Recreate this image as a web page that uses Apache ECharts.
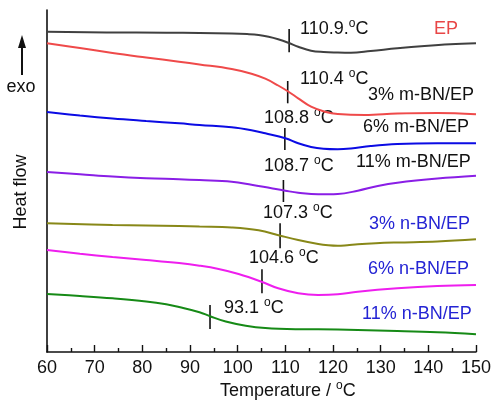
<!DOCTYPE html>
<html><head><meta charset="utf-8">
<script src="https://cdn.jsdelivr.net/npm/echarts@6/dist/echarts.min.js"></script>
<style>html,body{margin:0;padding:0;background:#fff}#c{width:494px;height:402px}</style>
</head><body><div id="c"></div>
<script>
// Temperature (°C) and heat-flow (arbitrary, offset units)
const tEP   = [60, 72.5, 85, 92, 98.75, 102, 104.4, 106.5, 108.5, 110.6, 112.7, 115.4, 118, 121, 123.75, 127.9, 133.5, 139.2, 144.6, 150];
const hEP   = [320.3, 319.6, 319.3, 319, 318.5, 317.9, 317, 315.2, 312.7, 309.3, 305.3, 301.3, 300, 299.5, 299.3, 301, 303.7, 306, 307.7, 308.7];
const tM3   = [60, 66.9, 73.75, 80.8, 87.7, 92, 98.75, 102.9, 105.8, 108.5, 110.6, 112.7, 115.4, 118.3, 121, 126.7, 133.5, 141.9, 150];
const hM3   = [308.7, 304, 299, 294.5, 290.3, 287.6, 283, 278.3, 273.3, 266.5, 260.5, 253.7, 245.3, 240.3, 238, 237, 238.5, 239, 237.7];
const tM6   = [60, 66.9, 73.75, 80.8, 87.7, 92, 98.75, 102.9, 105.8, 110, 112.7, 115.4, 118, 121, 123.75, 127.9, 133.5, 141.9, 150];
const hM6   = [240, 236.5, 233.5, 231, 228.7, 227, 224.7, 221.8, 218.7, 213.7, 208.7, 205, 203.2, 202.7, 203.5, 206, 208, 208.7, 208.7];
const tM11  = [60, 66.9, 73.75, 80.8, 87.7, 92, 98.75, 102.9, 107.1, 110, 112.7, 116.9, 121, 125.2, 129.4, 133.5, 141.9, 150];
const hM11  = [180, 177.8, 175.5, 173.8, 172.7, 171.9, 170.3, 167.3, 163.7, 161.3, 159.3, 157.7, 158, 161.3, 166, 169.3, 173.5, 176.3];
const tN3   = [60, 73.75, 87.7, 92, 98.75, 104.4, 108.96, 112.7, 116.9, 119, 121, 123, 125.2, 129, 133.5, 141.9, 150];
const hN3   = [128.7, 127, 126, 125.5, 124.6, 121.8, 116.3, 112, 108, 106.7, 106.2, 106.8, 107.8, 108.8, 109.5, 110.5, 112.7];
const tN6   = [60, 66.9, 73.75, 80.8, 87.7, 92, 96, 100.2, 105, 108.5, 112.7, 116.9, 121, 125.2, 133.5, 141.9, 150];
const hN6   = [102, 98.2, 94.9, 92, 88.9, 86.3, 83, 78, 70.3, 63.7, 58.7, 57, 57.7, 60.3, 63.7, 66, 67];
const tN11  = [60, 66.9, 73.75, 80.8, 85, 87.7, 92, 94.2, 97.5, 101.7, 105.8, 112.7, 121, 133.5, 141.9, 150];
const hN11  = [58, 56, 53.7, 50.6, 47.8, 45, 39.8, 35.8, 30.5, 26.3, 24, 22.8, 22.5, 21, 19.7, 17.7];

const seriesNames = ['EP', '3% m-BN/EP', '6% m-BN/EP', '11% m-BN/EP', '3% n-BN/EP', '6% n-BN/EP', '11% n-BN/EP'];
// Tg marker: temperature position, top and bottom of the short vertical mark
const tgPos    = [110.8, 110.5, 109.9, 109.6, 108.9, 105.1, 94.2];
const tgTop    = [323, 271, 224, 172, 128.7, 82.7, 47];
const tgBottom = [299.7, 248.7, 202, 150, 103.7, 58.7, 23];
const tgText   = ['110.9.', '110.4 ', '108.8 ', '108.7 ', '107.3 ', '104.6 ', '93.1 '];
const xTicks = [60, 70, 80, 90, 100, 110, 120, 130, 140, 150];

const colors = ['#404040', '#ef4a4a', '#0b0be4', '#8a1ee6', '#888818', '#ee1eee', '#168a16'];
const temps = [tEP, tM3, tM6, tM11, tN3, tN6, tN11];
const flows = [hEP, hM3, hM6, hM11, hN3, hN6, hN11];

const FONT = 'Liberation Sans, Arial, sans-serif';
const chart = echarts.init(document.getElementById('c'), null, {renderer: 'canvas'});

const series = seriesNames.map((n, i) => ({
  name: n, type: 'line', smooth: 0.4, symbol: 'none',
  lineStyle: {color: colors[i], width: 2},
  data: temps[i].map((t, k) => [t, flows[i][k]])
}));
series.push({
  type: 'custom', silent: true,
  data: tgPos.map((t, i) => [t, tgTop[i], tgBottom[i]]),
  renderItem: function (params, api) {
    const p1 = api.coord([api.value(0), api.value(1)]);
    const p2 = api.coord([api.value(0), api.value(2)]);
    return {type: 'line', shape: {x1: p1[0], y1: p1[1], x2: p2[0], y2: p2[1]},
            style: {stroke: '#111', lineWidth: 1.6}};
  }
});

function degLabel(txt, x, y) {
  return {type: 'text', left: x, top: y - 11,
    style: {text: txt + '{s|o}C', font: '18px ' + FONT, fill: '#111',
      rich: {s: {fontSize: 12, fontFamily: FONT, verticalAlign: 'top', lineHeight: 22, fill: '#111'}}}};
}
function plainLabel(txt, x, y, col) {
  return {type: 'text', left: x, top: y - 10, style: {text: txt, font: '18px ' + FONT, fill: col}};
}

const labelPos = [[300, 29], [300, 79], [264, 118], [264, 166], [263, 213], [249, 258], [224, 308]];
const namePos  = [[434, 30], [368, 96], [363, 128], [356, 163], [369, 225], [368, 270], [362, 315]];
const nameCol  = ['#e84646', '#111', '#111', '#111', '#2424d4', '#2424d4', '#2424d4'];

const graphics = [];
tgText.forEach((t, i) => graphics.push(degLabel(t, labelPos[i][0], labelPos[i][1])));
seriesNames.forEach((n, i) => graphics.push(plainLabel(n, namePos[i][0], namePos[i][1], nameCol[i])));
graphics.push({type: 'text', left: 220, top: 380,
  style: {text: 'Temperature / {s|o}C', font: '18px ' + FONT, fill: '#111',
    rich: {s: {fontSize: 12, fontFamily: FONT, verticalAlign: 'top', lineHeight: 22, fill: '#111'}}}});
graphics.push({type: 'text', x: 21, y: 192, rotation: Math.PI / 2,
  style: {text: 'Heat flow', font: '18px ' + FONT, fill: '#111', align: 'center', verticalAlign: 'middle'}});
graphics.push({type: 'text', x: 21, y: 87, style: {text: 'exo', font: '18px ' + FONT, fill: '#111', align: 'center', verticalAlign: 'middle'}});
graphics.push({type: 'line', shape: {x1: 22, y1: 45, x2: 22, y2: 75}, style: {stroke: '#111', lineWidth: 2}});
graphics.push({type: 'polygon', shape: {points: [[22, 35], [18, 48], [26, 48]]}, style: {fill: '#111'}});

chart.setOption({
  animation: false,
  grid: {left: 47, right: 15, top: 10, bottom: 50, containLabel: false},
  xAxis: {
    type: 'value', min: xTicks[0], max: xTicks[xTicks.length - 1], interval: 10,
    axisLine: {lineStyle: {color: '#111', width: 1.6}},
    axisTick: {inside: true, length: 7, lineStyle: {color: '#111', width: 1.4}},
    minorTick: {show: true, splitNumber: 2, length: 4, lineStyle: {color: '#111', width: 1.4}},
    axisLabel: {fontSize: 18, fontFamily: FONT, color: '#111', margin: 7},
    splitLine: {show: false}
  },
  yAxis: {
    type: 'value', min: 0, max: 342,
    axisLine: {show: true, lineStyle: {color: '#111', width: 1.6}},
    axisTick: {show: false}, axisLabel: {show: false}, splitLine: {show: false}
  },
  series: series,
  graphic: graphics
});
</script></body></html>
